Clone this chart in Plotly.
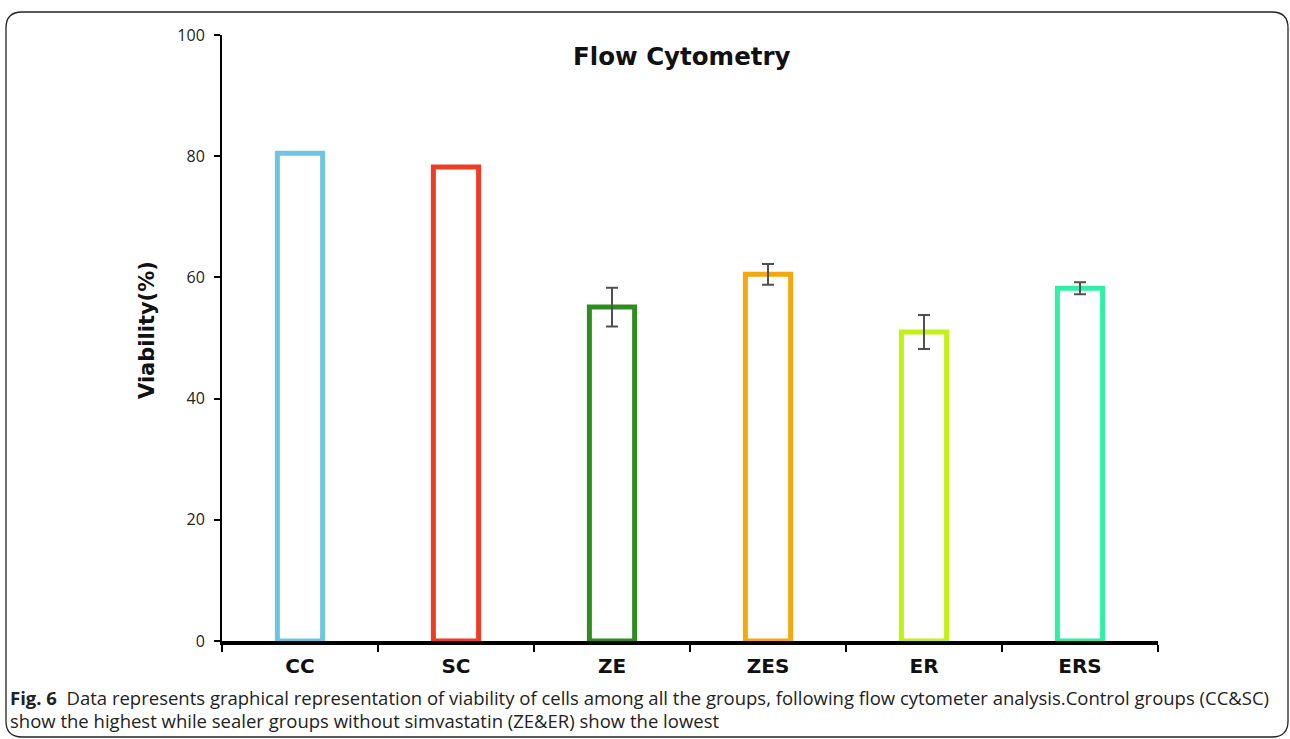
import plotly.graph_objects as go

# Viability (%) per group from flow cytometry
groups = ["CC", "SC", "ZE", "ZES", "ER", "ERS"]
viability = [80.5, 78.2, 55.1, 60.5, 51.0, 58.2]
viability_err = [None, None, 3.2, 1.7, 2.8, 1.0]
bar_colors = ["#6EC5E3", "#EE3B22", "#2F8C1F", "#F4A70E", "#C4F01A", "#30F0A4"]
y_ticks = [0, 20, 40, 60, 80, 100]

W, H = 1290, 739
L, R, T, B = 222, 1158, 35, 641  # plot area in pixels


def px(x):
    return (x - L) / (R - L)


def py(y):
    return (B - y) / (B - T)


fig = go.Figure()
fig.add_trace(go.Bar(
    x=groups,
    y=viability,
    width=0.29,
    marker=dict(color="rgba(255,255,255,0)", line=dict(color=bar_colors, width=5)),
    showlegend=False,
))

# error bars only for groups that have a spread
err_idx = [i for i, e in enumerate(viability_err) if e is not None]
fig.add_trace(go.Scatter(
    x=[groups[i] for i in err_idx],
    y=[viability[i] for i in err_idx],
    mode="markers",
    marker=dict(size=1, color="rgba(0,0,0,0)"),
    error_y=dict(type="data", array=[viability_err[i] for i in err_idx], visible=True,
                 color="#505050", thickness=2, width=6),
    showlegend=False,
))

# rounded frame around the figure and caption
x0, x1, y0, y1, r = 6, 1288, 12, 737, 16
path = (
    f"M {px(x0 + r)},{py(y0)} L {px(x1 - r)},{py(y0)} "
    f"Q {px(x1)},{py(y0)} {px(x1)},{py(y0 + r)} "
    f"L {px(x1)},{py(y1 - r)} Q {px(x1)},{py(y1)} {px(x1 - r)},{py(y1)} "
    f"L {px(x0 + r)},{py(y1)} Q {px(x0)},{py(y1)} {px(x0)},{py(y1 - r)} "
    f"L {px(x0)},{py(y0 + r)} Q {px(x0)},{py(y0)} {px(x0 + r)},{py(y0)} Z"
)
fig.add_shape(type="path", path=path, xref="paper", yref="paper",
              line=dict(color="#222222", width=1.3))

caption_font = dict(family="Open Sans", size=18.5, color="#222222")
annotations = [
    dict(text="<b>Flow Cytometry</b>", x=px(682), y=py(56), xref="paper", yref="paper",
         showarrow=False, xanchor="center", yanchor="middle",
         font=dict(family="DejaVu Sans", size=24.5, color="#111111")),
    dict(text="<b>Viability(%)</b>", x=px(147), y=py(330), xref="paper", yref="paper",
         showarrow=False, xanchor="center", yanchor="middle", textangle=-90,
         font=dict(family="DejaVu Sans", size=21, color="#111111")),
    dict(text="<b>Fig. 6</b>  Data represents graphical representation of viability of cells among all the groups, "
              "following flow cytometer analysis.Control groups (CC&SC)",
         x=px(8), y=py(697), xref="paper", yref="paper", showarrow=False,
         xanchor="left", yanchor="middle", font=caption_font),
    dict(text="show the highest while sealer groups without simvastatin (ZE&ER) show the lowest",
         x=px(8), y=py(720), xref="paper", yref="paper", showarrow=False,
         xanchor="left", yanchor="middle", font=caption_font),
]

fig.update_layout(
    width=W, height=H,
    margin=dict(l=L, r=W - R, t=T, b=H - B, pad=0),
    paper_bgcolor="white", plot_bgcolor="white",
    annotations=annotations,
    xaxis=dict(
        type="category", showgrid=False, zeroline=False,
        showline=True, linecolor="black", linewidth=3.5,
        ticks="outside", tickson="boundaries", ticklen=7, tickwidth=2, tickcolor="black",
        tickfont=dict(family="DejaVu Sans", size=20, color="#111111"),
        tickprefix="<b>", ticksuffix="</b>",
        ticklabelstandoff=4,
        range=[-0.5, 5.5],
    ),
    yaxis=dict(
        range=[0, 100], tickvals=y_ticks, showgrid=False, zeroline=False,
        showline=True, linecolor="black", linewidth=2,
        ticks="outside", ticklen=6, tickwidth=2, tickcolor="black",
        tickfont=dict(family="Open Sans", size=16, color="#222222"),
        ticklabelstandoff=6,
    ),
)

fig.write_html("out.html")
